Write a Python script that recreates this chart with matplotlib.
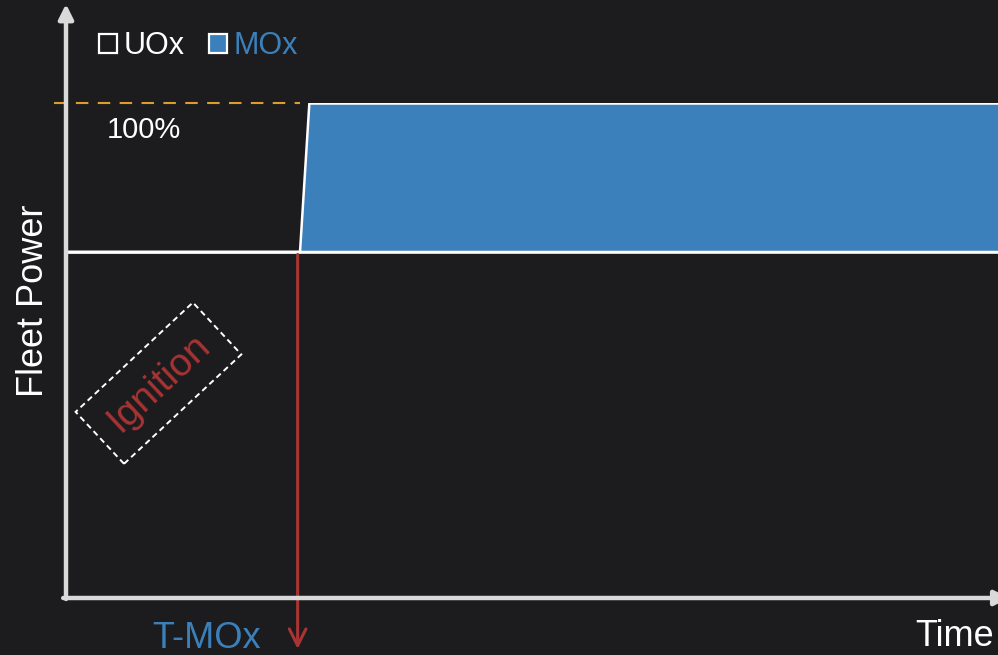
import matplotlib
matplotlib.use("Agg")
import matplotlib.pyplot as plt
from matplotlib.patches import Patch

plt.rcParams['font.family'] = ['Liberation Sans', 'DejaVu Sans']

# Fleet power share over time (percent of full fleet power)
time = [0, 25, 26, 100]
uox_power = [70, 70, 70, 70]
mox_power = [0, 0, 30, 30]
full_power = 100
t_mox = 25
series_labels = ['UOx', 'MOx']

BG = '#1c1c1e'
BLUE = '#3b80bb'
RED = '#a83434'
AXIS = '#d9d9d9'
ORANGE = '#dd9c2e'

fig = plt.figure(figsize=(9.98, 6.55), dpi=100)
fig.patch.set_facecolor(BG)
ax = fig.add_axes([66 / 998, 57 / 655, 934 / 998, 495 / 655])
ax.set_facecolor('none')
ax.set_xlim(0, 100)
ax.set_ylim(0, 100)
ax.axis('off')

# stacked areas
ax.stackplot(time, uox_power, mox_power, colors=[BG, BLUE],
             edgecolor='white', linewidth=1.8, zorder=2)

# 100% reference line
ax.plot([-1.3, t_mox], [full_power, full_power], color=ORANGE, lw=1.5,
        dashes=(6, 4.5), clip_on=False, zorder=3)
ax.text(4.4, 94.5, '100%', color='white', fontsize=21, va='center', ha='left')

# axes arrows
arrow_kw = dict(arrowstyle='-|>', lw=3.2, color=AXIS, mutation_scale=22,
                shrinkA=0, shrinkB=0)
ax.annotate('', xy=(0, 120.0), xytext=(0, -0.2), arrowprops=arrow_kw,
            annotation_clip=False, zorder=5)
ax.annotate('', xy=(101.0, 0), xytext=(-0.3, 0), arrowprops=arrow_kw,
            annotation_clip=False, zorder=5)

# ignition marker
ax.annotate('', xy=(t_mox - 0.2, -10.3), xytext=(t_mox - 0.2, 69.4),
            arrowprops=dict(arrowstyle='->', lw=2.2, color=RED,
                            mutation_scale=30, shrinkA=0, shrinkB=0),
            annotation_clip=False, zorder=4)
ax.text(9.9, 43.4, 'Ignition', color=RED, fontsize=28, rotation=43,
        rotation_mode='anchor', ha='center', va='center',
        bbox=dict(boxstyle='square,pad=0.45', facecolor='none',
                  edgecolor='white', lw=1.4, linestyle=(0, (3, 2))))

# axis labels
ax.text(-3.5, 60, 'Fleet Power', color='white', fontsize=26, rotation=90,
        ha='center', va='center', clip_on=False)
ax.text(9.2, -10.1, 'T-MOx', color=BLUE, fontsize=26, ha='left',
        va='baseline', clip_on=False)
ax.text(90.9, -9.6, 'Time', color='white', fontsize=26, ha='left',
        va='baseline', clip_on=False)

# legend
handles = [Patch(facecolor=BG, edgecolor='white', lw=1.6),
           Patch(facecolor=BLUE, edgecolor='white', lw=1.6)]
fig.legend(handles, series_labels, loc='center left',
           bbox_to_anchor=(99 / 998, 1 - 46 / 655), ncol=2, frameon=False,
           fontsize=22, labelcolor=['white', BLUE], handlelength=0.6,
           handleheight=0.6, handletextpad=0.2, columnspacing=0.8,
           borderpad=0, borderaxespad=0)

fig.savefig('out.png', dpi=100, facecolor=BG)
